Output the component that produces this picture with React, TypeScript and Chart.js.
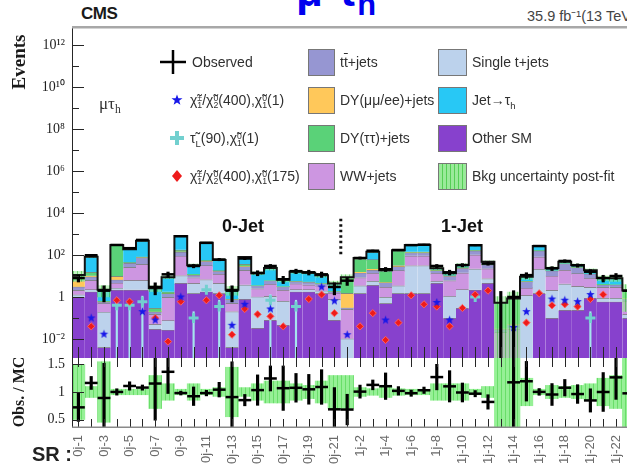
import React, { useEffect, useRef } from 'react';
import { Chart, registerables } from 'chart.js';
Chart.register(...registerables);

// ---------------- data ----------------
const categories = [
  '0j-1','0j-2','0j-3','0j-4','0j-5','0j-6','0j-7','0j-8','0j-9','0j-10','0j-11','0j-12','0j-13','0j-14','0j-15','0j-16','0j-17','0j-18','0j-19','0j-20','0j-21',
  '1j-1','1j-2','1j-3','1j-4','1j-5','1j-6','1j-7','1j-8','1j-9','1j-10','1j-11','1j-12','1j-13','1j-14','1j-15','1j-16','1j-17','1j-18','1j-19','1j-20','1j-21','1j-22','1j-23'
];

// background components, bottom -> top of the stack
const otherSM = [1.0,1.8,0.004,2.2,2.2,2.2,0.03,0.027,4.6,1.5,1.8,1.5,0.004,0.8,0.033,0.08,0.046,1.8,1.8,1.5,0.08,
  0.0005,1.5,3.7,0.5,1.5,1.5,1.5,4.6,0.1,0.3,2.2,4.6,0.0005,0.0005,0.0005,1.5,0.1,0.24,0.24,0.9,0.6,0.6,0.1];
const singleTop = [0.3,0.5,0.19,0.5,4,4,0.02,0.05,6,3,5,3,0.2,3,1,1,0.6,0.5,0.5,0.5,0.7,
  0.01,2,2,0.5,2,30,30,1,1,2,20,3,0,0,1.2,20,2,4,3,2,0.3,0.3,0.05];
const wwJets = [0.8,4,0.3,2,20,30,0.1,0.9,80,4,25,8,0.3,15,1.5,3,1.5,2,1.5,1.5,0.8,
  0.25,5,8,2,15,60,60,8,5,12,80,15,0.02,0.03,1.5,60,8,15,10,5,2,2,0.5];
const ttJets = [1.0,3,0.1,2,15,40,0.05,0.5,50,3,20,5,0.3,10,1,2,1,1.5,1.5,1,0.3,
  0.05,6,6,2,10,40,40,5,4,10,60,12,0.01,0.02,3,80,8,20,13,5,1,1,0.2];
const dyLL = [3,1,0,3,1,2,0,0,5,0,0,0,0,0,0,0,0,0,0,0,0,
  1.2,1,2,0,3,0,0,0,0,0,0,0,0,0,0,0,0,0,0,0,0,0,0];
const dyTauTau = [4,5,0.05,280,3,5,0.1,0.3,30,1,5,1,0,8,0,0,0,0,0,0,0,
  7,50,40,12,130,10,10,1,0.5,2,8,2,0.5,0.8,0,5,0,0,0,0,0.3,0,1];
const jetFakes = [1,68,1.6,10,145,400,2.3,7,620,20,330,40,1.4,43,10,18,3.4,10,9,6.5,2.5,
  0.3,6,80,2,8,160,160,4,3,7,130,11,0,0,3.5,100,6,9,7,6,3.8,4,0.2];

const observed = [8,97,2,300,211,522,3,12,780,30,379,61,2,68,14,30,7,17,15,12,3,
  6,72,160,21,173,295,311,30,15,33,291,39,0,1,11,267,23,52,32,16,8,10,2];

// relative background uncertainty (post-fit)
const bkgUnc = [0.5,0.1,0.55,0.05,0.05,0.05,0.3,0.15,0.05,0.15,0.05,0.08,0.45,0.08,0.15,0.2,0.2,0.15,0.12,0.2,0.3,
  0.3,0.08,0.06,0.1,0.06,0.05,0.05,0.15,0.15,0.15,0.05,0.1,1.0,1.0,0.25,0.05,0.12,0.1,0.12,0.15,0.25,0.3,0.9];

// signals
const sigChi400_1 = [null,0.1,0.017,null,null,0.2,0.08,null,1.0,null,null,null,0.045,0.45,null,0.27,null,null,null,3,0.65,
  0.016,null,null,0.08,null,null,null,0.55,0.08,null,null,null,null,0.035,0.2,null,0.8,0.7,0.6,1.3,null,null,null];
const sigStau90 = [null,null,null,0.41,0.41,0.6,null,null,null,0.1,2.2,0.35,null,null,null,0.7,null,0.35,null,null,null,
  null,null,null,null,null,null,null,null,null,null,1.0,null,null,null,null,null,null,null,null,0.1,null,null,null];
const sigStau90ErrHi = [null,null,null,0.8,0.8,1.1,null,null,null,0.2,null,0.7,null,null,null,1.3,null,0.7,null,null,null,
  null,null,null,null,null,null,null,null,null,null,null,null,null,null,null,null,null,null,null,0.2,null,null,null];
const sigChi400_175 = [null,0.04,null,0.7,0.6,null,0.1,0.0075,0.6,null,0.7,1.2,0.016,0.27,0.15,0.12,0.04,null,0.8,1.3,0.17,
  null,0.04,0.17,0.009,0.06,1.2,0.45,0.35,0.04,0.3,1.3,2,null,null,0.06,1.5,0.4,0.45,0.35,0.8,1.3,null,null];

const yTickPowers = [-2, 0, 2, 4, 6, 8, 10, 12];
const ratioTicks = [0.5, 1, 1.5];

// ---------------- style ----------------
const SANS = "'Liberation Sans', Arial, Helvetica, sans-serif";
const SERIF = "'Liberation Serif', 'Times New Roman', serif";
const C_OTHER = '#8741cd';
const C_ST = '#bcd2ec';
const C_WW = '#cd96e1';
const C_TT = '#9696d2';
const C_DYLL = '#ffc85a';
const C_DYTT = '#5ad278';
const C_JET = '#28c8f5';

const FLOOR = 1e-5;
const X_MIN = -0.5;
const X_MAX = 42.86;
const Y_MIN = Math.pow(10, -2.905);
const Y_MAX = Math.pow(10, 12.905);
const R_MIN = 0.3455;
const R_MAX = 1.618;

const SUP: Record<string, string> = { '-': '⁻', '0': '⁰', '1': '¹', '2': '²', '3': '³', '4': '⁴', '5': '⁵', '6': '⁶', '7': '⁷', '8': '⁸', '9': '⁹' };
const fmtPow = (v: number) => {
  const p = Math.round(Math.log10(v));
  if (p === 0) return '1';
  return '10' + String(p).split('').map((c) => SUP[c]).join('');
};

const noPad = (s: any) => { s.paddingTop = 0; s.paddingBottom = 0; s.paddingLeft = 0; s.paddingRight = 0; };

function makeHatch(ctx: CanvasRenderingContext2D, fill: string, line: string) {
  const c = document.createElement('canvas');
  c.width = 4; c.height = 4;
  const g = c.getContext('2d')!;
  g.fillStyle = fill; g.fillRect(0, 0, 4, 4);
  g.clearRect(1, 0, 1, 4);
  g.fillStyle = line; g.fillRect(1, 0, 1, 4);
  return ctx.createPattern(c, 'repeat')!;
}

function makeStar(color: string, r: number) {
  const s = Math.ceil(r * 2) + 2;
  const c = document.createElement('canvas');
  c.width = s; c.height = s;
  const g = c.getContext('2d')!;
  g.fillStyle = color;
  g.beginPath();
  for (let k = 0; k < 10; k++) {
    const rad = k % 2 === 0 ? r : r * 0.42;
    const a = -Math.PI / 2 + (k * Math.PI) / 5;
    const px = s / 2 + rad * Math.cos(a);
    const py = s / 2 + rad * Math.sin(a);
    if (k === 0) g.moveTo(px, py); else g.lineTo(px, py);
  }
  g.closePath();
  g.fill();
  return c;
}

const binTicks = categories.map((_, i) => ({ value: i })).filter((t) => t.value <= X_MAX);

const Sub = ({ children }: { children: React.ReactNode }) => (
  <span style={{ fontSize: '0.68em', position: 'relative', top: '0.38em', lineHeight: 0 }}>{children}</span>
);
const Chi = ({ sup, sub }: { sup: string; sub: string }) => (
  <span>
    {'\u03C7\u0303'}
    <span style={{ display: 'inline-block', verticalAlign: '-0.4em', fontSize: '0.62em', lineHeight: '0.9em', textAlign: 'left' }}>
      <span style={{ display: 'block' }}>{sup}</span>
      <span style={{ display: 'block' }}>{sub}</span>
    </span>
  </span>
);

export default function App() {
  const mainRef = useRef<HTMLCanvasElement>(null);
  const ratioRef = useRef<HTMLCanvasElement>(null);

  useEffect(() => {
    const mainCanvas = mainRef.current!;
    const ratioCanvas = ratioRef.current!;
    const mctx = mainCanvas.getContext('2d')!;
    const rctx = ratioCanvas.getContext('2d')!;

    const components = [
      { label: 'Other SM', data: otherSM, color: C_OTHER },
      { label: 'Single t+jets', data: singleTop, color: C_ST },
      { label: 'WW+jets', data: wwJets, color: C_WW },
      { label: 'tt+jets', data: ttJets, color: C_TT },
      { label: 'DY(μμ/ee)+jets', data: dyLL, color: C_DYLL },
      { label: 'DY(ττ)+jets', data: dyTauTau, color: C_DYTT },
      { label: 'Jet→τh', data: jetFakes, color: C_JET },
    ];
    const cum = categories.map(() => 0);
    const stackSets: any[] = components.map((c, k) => {
      const data = categories.map((_, i) => {
        const lo = cum[i];
        const hi = lo + c.data[i];
        cum[i] = hi;
        return { x: i, y: [Math.max(lo, FLOOR), Math.max(hi, FLOOR)] };
      });
      return {
        type: 'bar', label: c.label, data, backgroundColor: c.color,
        borderColor: 'rgba(45,45,45,0.6)', borderWidth: { top: 1, left: 0, right: 0, bottom: 0 }, borderSkipped: false,
        grouped: false, barPercentage: 1, categoryPercentage: 1, order: 30 - k,
      };
    });
    const total = cum.slice();

    const mainHatch = makeHatch(mctx, 'rgba(150,235,150,0.55)', 'rgba(70,195,70,0.75)');
    const ratioHatch = makeHatch(rctx, 'rgb(150,240,150)', 'rgb(105,222,105)');
    const star = makeStar('#1818e8', 4.5);

    const sep = categories.findIndex((c) => c.startsWith('1j')) - 0.5;

    const mainDeco = {
      id: 'mainDeco',
      afterDatasetsDraw(chart: any) {
        const { ctx, chartArea: a, scales } = chart;
        const x = scales.x, y = scales.y;
        ctx.save();
        ctx.strokeStyle = '#262626';
        ctx.lineWidth = 1;
        for (let i = 0; i < categories.length; i++) {
          const px = Math.round(x.getPixelForValue(i)) + 0.5;
          if (px > a.right) continue;
          ctx.beginPath(); ctx.moveTo(px, a.bottom); ctx.lineTo(px, a.bottom - 11); ctx.stroke();
        }
        for (let d = -2; d <= 12; d++) {
          const py = Math.round(y.getPixelForValue(Math.pow(10, d))) + 0.5;
          const len = d % 2 === 0 ? 12 : 7;
          ctx.beginPath(); ctx.moveTo(a.left, py); ctx.lineTo(a.left + len, py); ctx.stroke();
        }
        ctx.beginPath(); ctx.moveTo(a.left + 0.5, a.top); ctx.lineTo(a.left + 0.5, a.bottom); ctx.stroke();
        ctx.strokeStyle = '#a8a8a8';
        ctx.lineWidth = 2.5;
        ctx.beginPath(); ctx.moveTo(a.left, a.top + 1.25); ctx.lineTo(a.right, a.top + 1.25); ctx.stroke();
        ctx.restore();
      },
    };

    const ratioDeco = {
      id: 'ratioDeco',
      afterDatasetsDraw(chart: any) {
        const { ctx, chartArea: a, scales } = chart;
        const x = scales.x, y = scales.y;
        ctx.save();
        ctx.strokeStyle = '#262626';
        ctx.lineWidth = 1;
        for (let i = 0; i < categories.length; i++) {
          const px = Math.round(x.getPixelForValue(i)) + 0.5;
          if (px > a.right) continue;
          ctx.beginPath(); ctx.moveTo(px, a.bottom); ctx.lineTo(px, a.bottom - 9); ctx.stroke();
          ctx.beginPath(); ctx.moveTo(px, a.top); ctx.lineTo(px, a.top + 9); ctx.stroke();
        }
        for (const t of ratioTicks) {
          const py = Math.round(y.getPixelForValue(t)) + 0.5;
          ctx.beginPath(); ctx.moveTo(a.left, py); ctx.lineTo(a.left + 12, py); ctx.stroke();
        }
        ctx.beginPath(); ctx.moveTo(a.left + 0.5, a.top); ctx.lineTo(a.left + 0.5, a.bottom); ctx.stroke();
        ctx.strokeStyle = '#8a8a8a';
        ctx.lineWidth = 1.5;
        ctx.beginPath(); ctx.moveTo(a.left, a.bottom - 0.75); ctx.lineTo(a.right, a.bottom - 0.75); ctx.stroke();
        ctx.restore();
      },
    };

    const present = (arr: (number | null)[]) =>
      arr.map((v, i) => (v == null ? null : { x: i, y: v })).filter(Boolean) as { x: number; y: number }[];

    const mainDatasets: any[] = [
      ...stackSets,
      {
        type: 'bar', label: 'Bkg uncertainty post-fit', order: 9, grouped: false, barPercentage: 1, categoryPercentage: 1,
        backgroundColor: mainHatch, borderWidth: 0,
        data: categories.map((_, i) => ({ x: i, y: [Math.max(total[i] * (1 - bkgUnc[i]), FLOOR), total[i] * (1 + bkgUnc[i])] })),
      },
      {
        type: 'line', label: 'total', order: 8, stepped: 'middle', borderColor: '#121212', borderWidth: 2, pointRadius: 0, fill: false,
        data: [{ x: -0.5, y: total[0] }, ...categories.map((_, i) => ({ x: i, y: Math.max(total[i], FLOOR) })), { x: categories.length - 0.5, y: total[total.length - 1] }],
      },
      {
        type: 'line', label: 'sep', order: 7, borderColor: '#111', borderWidth: 3, borderDash: [2.5, 3], pointRadius: 0, fill: false,
        data: [{ x: sep, y: 110 }, { x: sep, y: 6000 }],
      },
      {
        type: 'bar', label: 'stau err', order: 6, grouped: false, barThickness: 1.5, backgroundColor: '#a6e4ee', borderWidth: 0,
        data: sigStau90ErrHi.map((v, i) => (v == null ? null : { x: i, y: [FLOOR, v] })).filter(Boolean),
      },
      {
        type: 'scatter', label: 'stau', order: 5, pointStyle: 'cross', pointRadius: 5, borderWidth: 3, borderColor: '#72d0cf',
        data: present(sigStau90),
      },
      {
        type: 'scatter', label: 'chi175', order: 4, pointStyle: 'rectRot', pointRadius: 3.6, borderWidth: 1, backgroundColor: '#ee1b1b', borderColor: '#ff6060',
        data: present(sigChi400_175),
      },
      {
        type: 'scatter', label: 'chi1', order: 3, pointStyle: star, pointRadius: 4.5,
        data: present(sigChi400_1),
      },
      {
        type: 'bar', label: 'obs err', order: 2, grouped: false, barThickness: 2.5, backgroundColor: '#000', borderWidth: 0,
        data: observed.map((n, i) => ({ x: i, y: [Math.max(n - Math.sqrt(n), FLOOR), n === 0 ? 1.84 : n + Math.sqrt(n)] })),
      },
      {
        type: 'scatter', label: 'Observed', order: 1, pointStyle: 'line', pointRadius: 6.4, borderWidth: 2.5, borderColor: '#000',
        data: observed.map((n, i) => (n > 0 ? { x: i, y: n } : null)).filter(Boolean),
      },
    ];

    const main = new Chart(mainCanvas, {
      type: 'bar',
      data: { datasets: mainDatasets },
      options: {
        animation: false, responsive: false, devicePixelRatio: 1, events: [],
        layout: { padding: 0, autoPadding: false },
        plugins: { legend: { display: false }, tooltip: { enabled: false } },
        scales: {
          x: {
            type: 'linear', min: X_MIN, max: X_MAX, offset: false, display: false,
            grid: { offset: false },
            afterBuildTicks: (s: any) => { s.ticks = binTicks.map((t) => ({ ...t })); },
            afterFit: noPad,
          },
          y: {
            type: 'logarithmic', min: Y_MIN, max: Y_MAX,
            grid: { display: false, drawTicks: false }, border: { display: false },
            afterBuildTicks: (s: any) => { s.ticks = yTickPowers.map((p) => ({ value: Math.pow(10, p) })); },
            afterFit: (s: any) => { s.width = 72; noPad(s); },
            ticks: { padding: 7, color: '#1e1e1e', font: { family: SERIF, size: 14 }, callback: (v: any) => fmtPow(Number(v)) },
          },
        },
      } as any,
      plugins: [mainDeco],
    });

    const ratioBand = categories.map((_, i) => ({ x: i, y: [1 - bkgUnc[i], 1 + bkgUnc[i]] }));
    const ratioErr = observed
      .map((n, i) => (n > 0 ? { x: i, y: [(n - Math.sqrt(n)) / total[i], (n + Math.sqrt(n)) / total[i]] } : null))
      .filter(Boolean);
    const ratioPts = observed.map((n, i) => (n > 0 ? { x: i, y: n / total[i] } : null)).filter(Boolean);

    const ratio = new Chart(ratioCanvas, {
      type: 'bar',
      data: {
        datasets: [
          { type: 'bar', label: 'unc', order: 5, grouped: false, barPercentage: 1, categoryPercentage: 1, backgroundColor: ratioHatch, borderWidth: 0, data: ratioBand },
          { type: 'bar', label: 'err', order: 2, grouped: false, barThickness: 2.5, backgroundColor: '#000', borderWidth: 0, data: ratioErr },
          { type: 'scatter', label: 'ratio', order: 1, pointStyle: 'line', pointRadius: 6.4, borderWidth: 2.5, borderColor: '#000', data: ratioPts },
        ] as any,
      },
      options: {
        animation: false, responsive: false, devicePixelRatio: 1, events: [],
        layout: { padding: { top: 8, left: 0, right: 0, bottom: 0 }, autoPadding: false },
        plugins: { legend: { display: false }, tooltip: { enabled: false } },
        scales: {
          x: {
            type: 'linear', min: X_MIN, max: X_MAX, offset: false,
            grid: { display: false, offset: false, drawTicks: false }, border: { display: false },
            afterBuildTicks: (s: any) => { s.ticks = binTicks.map((t) => ({ ...t })); },
            afterFit: (s: any) => { s.height = 48; noPad(s); },
            ticks: {
              autoSkip: false, minRotation: 90, maxRotation: 90, padding: 7, color: '#6a6a6a',
              font: { family: SANS, size: 13 },
              callback: (v: any) => { const k = Math.round(Number(v)); return k % 2 === 0 ? categories[k] : ''; },
            },
          },
          y: {
            type: 'linear', min: R_MIN, max: R_MAX,
            grid: { display: false, drawTicks: false }, border: { display: false },
            afterBuildTicks: (s: any) => { s.ticks = ratioTicks.map((v) => ({ value: v })); },
            afterFit: (s: any) => { s.width = 72; noPad(s); },
            ticks: { padding: 7, color: '#1e1e1e', font: { family: SERIF, size: 14 }, callback: (v: any) => String(v) },
          },
        },
      } as any,
      plugins: [ratioDeco],
    });

    return () => { main.destroy(); ratio.destroy(); };
  }, []);

  const rowCenters = [62, 100, 138, 176];
  const txt = (left: number, cy: number): React.CSSProperties => ({
    position: 'absolute', left, top: cy - 10, height: 20, lineHeight: '20px', fontSize: 14, color: '#303030', whiteSpace: 'nowrap', fontFamily: SANS,
  });
  const box = (left: number, cy: number, bg: string, w: number): React.CSSProperties => ({
    position: 'absolute', left, top: cy - 13.5, width: w, height: 27, background: bg, border: '1px solid #777', boxSizing: 'border-box',
  });

  const col2 = [
    { color: C_TT, label: <>t<span style={{ textDecoration: 'overline' }}>t</span>+jets</> },
    { color: C_DYLL, label: <>DY(μμ/ee)+jets</> },
    { color: C_DYTT, label: <>DY(ττ)+jets</> },
    { color: C_WW, label: <>WW+jets</> },
  ];
  const col3 = [
    { color: C_ST, label: <>Single t+jets</> },
    { color: C_JET, label: <>Jet→τ<Sub>h</Sub></> },
    { color: C_OTHER, label: <>Other SM</> },
    { color: 'repeating-linear-gradient(90deg, #9aea9a 0px, #9aea9a 3px, #55cf55 3px, #55cf55 4px)', label: <>Bkg uncertainty post-fit</> },
  ];

  return (
    <div style={{ position: 'absolute', left: 0, top: 0, width: 627, height: 476, overflow: 'hidden', background: '#fff', fontFamily: SANS }}>
      <canvas ref={mainRef} width={627} height={332} style={{ position: 'absolute', left: 0, top: 26 }} />
      <canvas ref={ratioRef} width={627} height={126} style={{ position: 'absolute', left: 0, top: 350 }} />

      {/* headers */}
      <div style={{ position: 'absolute', left: 296, top: -31, fontSize: 44, lineHeight: '44px', fontWeight: 'bold', color: '#0000ee', whiteSpace: 'nowrap', fontFamily: SANS }}>
        μ-τ<span style={{ fontSize: '0.7em', position: 'relative', top: '0.3em' }}>h</span>
      </div>
      <div style={{ position: 'absolute', left: 81, top: 4, fontSize: 17, lineHeight: '20px', fontWeight: 'bold', color: '#1a1a1a', letterSpacing: '-0.5px' }}>CMS</div>
      <div style={{ position: 'absolute', left: 527, top: 7, fontSize: 14.5, lineHeight: '18px', color: '#444', whiteSpace: 'nowrap' }}>35.9 fb⁻¹(13 TeV)</div>

      {/* axis titles */}
      <div style={{ position: 'absolute', left: -21, top: 51, width: 80, height: 22, lineHeight: '22px', textAlign: 'center', transform: 'rotate(-90deg)', fontFamily: SERIF, fontWeight: 'bold', fontSize: 19, color: '#1a1a1a' }}>Events</div>
      <div style={{ position: 'absolute', left: -26, top: 381, width: 90, height: 22, lineHeight: '22px', textAlign: 'center', transform: 'rotate(-90deg)', fontFamily: SERIF, fontWeight: 'bold', fontSize: 16, color: '#1a1a1a', whiteSpace: 'nowrap' }}>Obs. / MC</div>
      <div style={{ position: 'absolute', left: 32, top: 442, fontSize: 20, lineHeight: '24px', fontWeight: 'bold', color: '#222', whiteSpace: 'nowrap' }}>SR :</div>

      {/* channel / region labels */}
      <div style={{ position: 'absolute', left: 99, top: 94, fontSize: 17, lineHeight: '20px', fontFamily: SERIF, color: '#333' }}>μτ<Sub>h</Sub></div>
      <div style={{ position: 'absolute', left: 222, top: 215, fontSize: 18, lineHeight: '22px', fontWeight: 'bold', color: '#111' }}>0-Jet</div>
      <div style={{ position: 'absolute', left: 441, top: 215, fontSize: 18, lineHeight: '22px', fontWeight: 'bold', color: '#111' }}>1-Jet</div>

      {/* legend column 1 */}
      <svg style={{ position: 'absolute', left: 159, top: rowCenters[0] - 13 }} width={28} height={26}>
        <line x1={1} y1={13} x2={27} y2={13} stroke="#000" strokeWidth={2.5} />
        <line x1={14} y1={1} x2={14} y2={25} stroke="#000" strokeWidth={2.5} />
      </svg>
      <div style={txt(192, rowCenters[0])}>Observed</div>
      <svg style={{ position: 'absolute', left: 171, top: rowCenters[1] - 6 }} width={12} height={12}>
        <polygon points="6,0.5 7.4,4.3 11.5,4.3 8.2,6.8 9.4,10.8 6,8.4 2.6,10.8 3.8,6.8 0.5,4.3 4.6,4.3" fill="#1818e8" />
      </svg>
      <div style={txt(190, rowCenters[1])}><Chi sup="±" sub="1" />/<Chi sup="0" sub="2" />(400),<Chi sup="0" sub="1" />(1)</div>
      <svg style={{ position: 'absolute', left: 170, top: rowCenters[2] - 7 }} width={14} height={14}>
        <rect x={5} y={0} width={4} height={14} fill="#72d0cf" />
        <rect x={0} y={5} width={14} height={4} fill="#72d0cf" />
      </svg>
      <div style={txt(190, rowCenters[2])}>{'\u03C4\u0303'}<Sub>L</Sub>(90),<Chi sup="0" sub="1" />(1)</div>
      <svg style={{ position: 'absolute', left: 172, top: rowCenters[3] - 6 }} width={10} height={12}>
        <polygon points="5,0 10,6 5,12 0,6" fill="#ee1b1b" />
      </svg>
      <div style={txt(190, rowCenters[3])}><Chi sup="±" sub="1" />/<Chi sup="0" sub="2" />(400),<Chi sup="0" sub="1" />(175)</div>

      {/* legend column 2 */}
      {col2.map((e, k) => (
        <React.Fragment key={'c2' + k}>
          <div style={box(308, rowCenters[k], e.color, 27)} />
          <div style={txt(340, rowCenters[k])}>{e.label}</div>
        </React.Fragment>
      ))}
      {/* legend column 3 */}
      {col3.map((e, k) => (
        <React.Fragment key={'c3' + k}>
          <div style={box(438, rowCenters[k], e.color, 29)} />
          <div style={txt(472, rowCenters[k])}>{e.label}</div>
        </React.Fragment>
      ))}
    </div>
  );
}
